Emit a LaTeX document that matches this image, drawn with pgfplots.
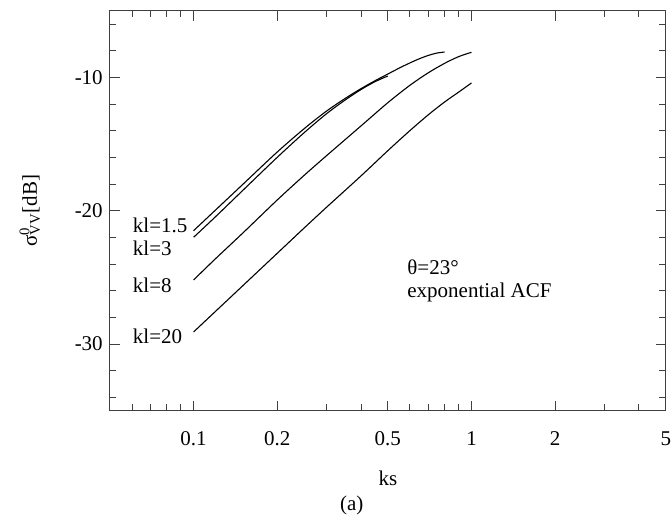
\documentclass[border=0pt]{standalone}
\usepackage{fontspec}
\setmainfont{Liberation Serif}
\usepackage{pgfplots}
\pgfplotsset{compat=1.18}
\begin{document}
\fontsize{21}{25}\selectfont
\begin{tikzpicture}
\begin{axis}[
  scale only axis,
  width=556pt, height=400pt,
  xmode=log,
  xmin=0.05, xmax=5,
  ymin=-35, ymax=-5,
  xtick={0.1,0.2,0.5,1,2,5},
  xticklabels={0.1,0.2,0.5,1,2,5},
  minor xtick={0.06,0.07,0.08,0.09,0.3,0.4,0.6,0.7,0.8,0.9,3,4},
  ytick={-30,-20,-10},
  yticklabels={-30,-20,-10},
  minor ytick={-34,-32,-28,-26,-24,-22,-18,-16,-14,-12,-8,-6},
  major tick length=10pt,
  minor tick length=6.5pt,
  tick style={black!75, line width=0.8pt},
  axis line style={black!75, line width=0.9pt},
  every tick label/.append style={inner sep=0pt},
  xticklabel style={anchor=north, yshift=-21pt},
  yticklabel style={anchor=east, xshift=-7pt},
  /pgf/number format/assume math mode=true,
  xlabel={ks},
  xlabel style={at={(axis description cs:0.5,-0.1685)}, anchor=center, inner sep=0pt},
  ylabel={σ\rlap{\textsuperscript{0}}\textsubscript{VV}[dB]},
  ylabel style={at={(axis description cs:-0.144,0.5)}, anchor=center, inner sep=0pt},
  clip=false,
]
% kl=1.5
\addplot[black, line width=1.1pt, smooth] coordinates {
(0.1,-21.5) (0.12,-19.95) (0.15,-18.05) (0.2,-15.6) (0.25,-13.85) (0.3,-12.55)
(0.35,-11.6) (0.4,-10.85) (0.45,-10.25) (0.5,-9.75) (0.55,-9.3) (0.6,-8.92)
(0.65,-8.6) (0.7,-8.35) (0.75,-8.18) (0.8,-8.1)};
% kl=3
\addplot[black, line width=1.1pt, smooth] coordinates {
(0.1,-22.0) (0.12,-20.45) (0.15,-18.5) (0.2,-16.0) (0.25,-14.15) (0.3,-12.75)
(0.35,-11.72) (0.4,-10.92) (0.45,-10.32) (0.5,-9.9)};
% kl=8
\addplot[black, line width=1.1pt, smooth] coordinates {
(0.1,-25.2) (0.12,-23.6) (0.15,-21.7) (0.2,-19.2) (0.25,-17.35) (0.3,-15.9)
(0.4,-13.65) (0.5,-11.9) (0.6,-10.6) (0.7,-9.65) (0.8,-8.95) (0.9,-8.44) (1.0,-8.12)};
% kl=20
\addplot[black, line width=1.1pt, smooth] coordinates {
(0.1,-29.1) (0.12,-27.55) (0.15,-25.65) (0.2,-23.2) (0.25,-21.3) (0.3,-19.77)
(0.4,-17.4) (0.5,-15.5) (0.6,-14.0) (0.7,-12.8) (0.8,-11.85) (0.9,-11.1) (1.0,-10.42)};
\node[anchor=west, inner sep=0pt] at (axis cs:0.0604,-21.08) {kl=1.5};
\node[anchor=west, inner sep=0pt] at (axis cs:0.0604,-22.8) {kl=3};
\node[anchor=west, inner sep=0pt] at (axis cs:0.0604,-25.57) {kl=8};
\node[anchor=west, inner sep=0pt] at (axis cs:0.0604,-29.4) {kl=20};
\node[anchor=west, inner sep=0pt] at (axis cs:0.587,-24.23) {θ=23°};
\node[anchor=west, inner sep=0pt] at (axis cs:0.587,-26.1) {exponential ACF};
\node[anchor=center, inner sep=0pt] at (axis description cs:0.435,-0.2385) {(a)};
\path (axis description cs:-0.1978,1.0268) (axis description cs:1.009,-0.2635);
\end{axis}
\end{tikzpicture}
\end{document}
